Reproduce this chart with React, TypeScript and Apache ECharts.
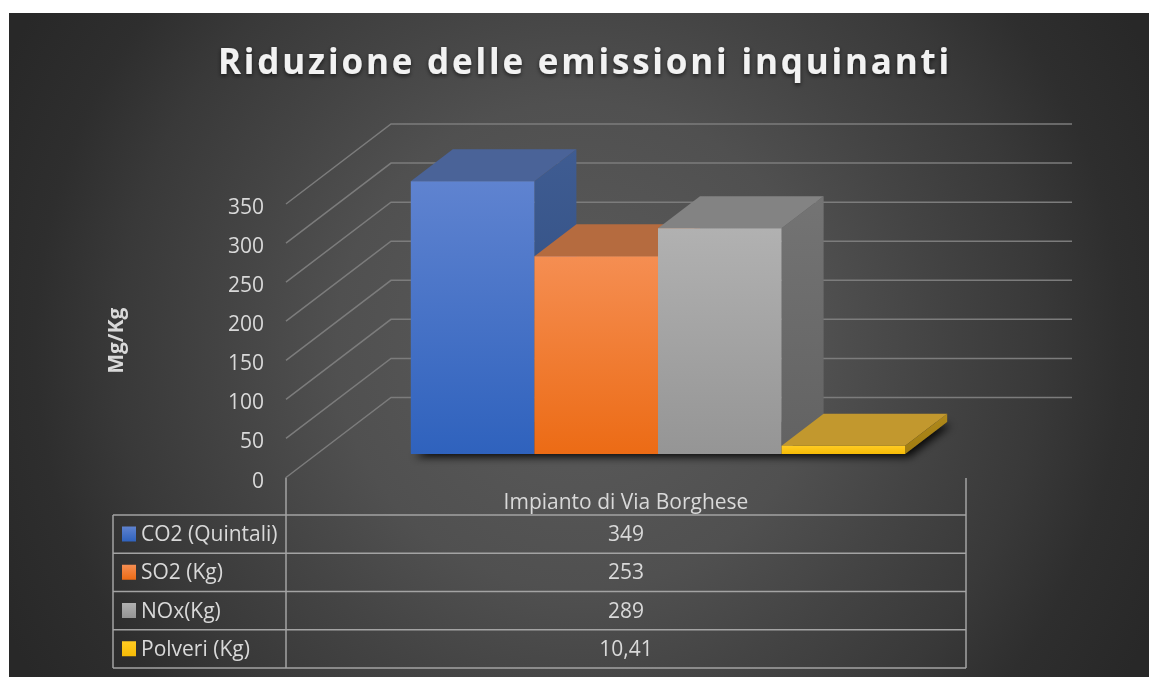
import React, { useEffect, useRef } from "react";
import * as echarts from "echarts";

const titleText = "Riduzione delle emissioni inquinanti";
const yAxisName = "Mg/Kg";
const categories = ["Impianto di Via Borghese"];
const seriesNames = ["CO2 (Quintali)", "SO2 (Kg)", "NOx(Kg)", "Polveri (Kg)"];
const seriesValues = [349, 253, 289, 10.41];
const tickValues = [0, 50, 100, 150, 200, 250, 300, 350];
const frontTop = ["#5f83d0", "#f58e52", "#b1b1b1", "#ffcb22"];
const frontBottom = ["#2f62bd", "#ec6b15", "#959595", "#f6bb06"];
const topFaces = ["#4a6398", "#b56b3f", "#838383", "#c2982e"];
const sideTop = ["#3f5c92", "#8f5030", "#747474", "#b0891c"];
const sideBottom = ["#2b4a7c", "#8a4515", "#626262", "#a07c10"];

const FONT = "'Open Sans', sans-serif";
const TEXT = "#d9d9d9";
const LINE = "#a3a3a3";
const WALL_DX = 105;
const WALL_DY = 80;
const BASE_DX = 32;
const BASE_DY = 23.5;
const BAR_DX = 42;
const BAR_DY = 32;
const BAR_W = 123.6;

const poly = (points: number[][], fill: any, extra: any = {}) => ({
  type: "polygon",
  shape: { points },
  style: { fill, ...extra },
  silent: true,
});

const vgrad = (a: string, b: string) => ({
  type: "linear",
  x: 0,
  y: 0,
  x2: 0,
  y2: 1,
  colorStops: [
    { offset: 0, color: a },
    { offset: 1, color: b },
  ],
});

export default function App() {
  const ref = useRef<HTMLDivElement>(null);

  useEffect(() => {
    document.body.style.margin = "0";
    document.body.style.background = "#fff";
    const chart = echarts.init(ref.current!, null, { renderer: "svg" });

    const tableLeft = 113;
    const tableMid = 286;
    const tableRight = 966;
    const tableTop = 515;
    const rowH = 38.25;
    const lineStyle = { stroke: LINE, lineWidth: 1.5 };
    const tableGraphics: any[] = [];
    const addLine = (x1: number, y1: number, x2: number, y2: number) =>
      tableGraphics.push({
        type: "line",
        silent: true,
        shape: { x1, y1, x2, y2 },
        style: lineStyle,
      });
    seriesNames.forEach((name, i) => {
      const y = tableTop + rowH * i;
      addLine(tableLeft, y, tableRight, y);
      tableGraphics.push({
        type: "rect",
        silent: true,
        shape: { x: 122, y: y + 11.5, width: 14, height: 15 },
        style: { fill: vgrad(frontTop[i], frontBottom[i]) },
      });
      tableGraphics.push({
        type: "text",
        silent: true,
        x: 141,
        y: y + rowH / 2 - 1,
        style: {
          text: name,
          fill: TEXT,
          font: `21px ${FONT}`,
          textAlign: "left",
          textVerticalAlign: "middle",
        },
      });
      tableGraphics.push({
        type: "text",
        silent: true,
        x: 626,
        y: y + rowH / 2 - 1,
        style: {
          text: String(seriesValues[i]).replace(".", ","),
          fill: TEXT,
          font: `21px ${FONT}`,
          textAlign: "center",
          textVerticalAlign: "middle",
        },
      });
    });
    const tableBottom = tableTop + rowH * seriesNames.length;
    addLine(tableLeft, tableBottom, tableRight, tableBottom);
    addLine(tableLeft, tableTop, tableLeft, tableBottom);
    addLine(tableMid, 477.5, tableMid, tableBottom);
    addLine(tableRight, 478, tableRight, tableBottom);

    chart.setOption({
      animation: false,
      backgroundColor: "transparent",
      graphic: [
        {
          type: "rect",
          silent: true,
          z: -10,
          shape: { x: 9, y: 13, width: 1140, height: 664 },
          style: {
            fill: {
              type: "radial",
              x: 579,
              y: 345,
              r: 640,
              global: true,
              colorStops: [
                { offset: 0, color: "#5c5c5c" },
                { offset: 0.38, color: "#505050" },
                { offset: 0.55, color: "#444444" },
                { offset: 0.72, color: "#393939" },
                { offset: 0.85, color: "#2e2e2e" },
                { offset: 1, color: "#282828" },
              ],
            },
          },
        },
        ...tableGraphics,
      ],
      title: {
        text: titleText,
        left: 580,
        top: 38,
        textAlign: "center",
        textStyle: {
          color: "#f2f2f2",
          fontFamily: FONT,
          fontWeight: "bold",
          fontSize: 35,
          textShadowColor: "rgba(0,0,0,0.6)",
          textShadowBlur: 4,
          textShadowOffsetY: 2,
        },
      },
      grid: { left: 286, top: 204, width: 680, height: 273.5 },
      xAxis: {
        type: "category",
        data: categories,
        axisLine: { show: false },
        axisTick: { show: false },
        axisLabel: { color: TEXT, fontFamily: FONT, fontSize: 21, margin: 13 },
      },
      yAxis: {
        type: "value",
        min: 0,
        max: 350,
        interval: 50,
        name: yAxisName,
        nameLocation: "middle",
        nameGap: 161,
        nameRotate: 90,
        nameTextStyle: { color: TEXT, fontFamily: FONT, fontWeight: "bold", fontSize: 21 },
        axisLine: { show: false },
        axisTick: { show: false },
        splitLine: { show: false },
        axisLabel: {
          color: TEXT,
          fontFamily: FONT,
          fontSize: 21,
          margin: 22,
          verticalAlign: "top",
          lineHeight: 4,
        },
      },
      series: [
        {
          type: "custom",
          name: "wall",
          silent: true,
          z: 1,
          encode: { x: 0, y: 1 },
          data: tickValues.map((v) => [0, v]),
          renderItem: (params: any, api: any) => {
            const y = api.coord([0, api.value(1)])[1];
            const cs = params.coordSys;
            return {
              type: "polyline",
              silent: true,
              shape: {
                points: [
                  [cs.x, y],
                  [cs.x + WALL_DX, y - WALL_DY],
                  [cs.x + cs.width + WALL_DX + 1, y - WALL_DY],
                ],
              },
              style: { stroke: "#7c7c7c", lineWidth: 1.5, fill: "none" },
            };
          },
        },
        {
          type: "custom",
          name: "bars",
          silent: true,
          z: 2,
          encode: { x: 0, y: 1 },
          data: seriesValues.map((v) => [0, v]),
          renderItem: (params: any, api: any) => {
            const i = params.dataIndex;
            const p = api.coord([0, api.value(1)]);
            const base = api.coord([0, 0]);
            const n = seriesValues.length;
            const x0 = base[0] + BASE_DX - (BAR_W * n) / 2 + BAR_W * i;
            const x1 = x0 + BAR_W;
            const yb = base[1] - BASE_DY;
            const yt = p[1] - BASE_DY;
            const children: any[] = [];
            if (i === 0) {
              const right = x0 + BAR_W * n;
              children.push(
                poly(
                  [
                    [x0, yb],
                    [right, yb],
                    [right + BAR_DX, yb - BAR_DY],
                    [x0 + BAR_DX, yb - BAR_DY],
                  ],
                  "#1c1c1c",
                  { shadowColor: "rgba(0,0,0,0.9)", shadowBlur: 9, shadowOffsetX: 4, shadowOffsetY: 3 }
                )
              );
            }
            children.push(
              poly(
                [
                  [x1, yb],
                  [x1 + BAR_DX, yb - BAR_DY],
                  [x1 + BAR_DX, yt - BAR_DY],
                  [x1, yt],
                ],
                vgrad(sideTop[i], sideBottom[i])
              ),
              poly(
                [
                  [x0, yt],
                  [x1, yt],
                  [x1 + BAR_DX, yt - BAR_DY],
                  [x0 + BAR_DX, yt - BAR_DY],
                ],
                topFaces[i]
              ),
              poly(
                [
                  [x0, yt],
                  [x1, yt],
                  [x1, yb],
                  [x0, yb],
                ],
                vgrad(frontTop[i], frontBottom[i])
              )
            );
            return { type: "group", silent: true, children };
          },
        },
      ],
    });

    // ECharts has no letter-spacing option; the title is spaced out on its SVG node.
    ref.current!.querySelectorAll("text").forEach((node) => {
      if (node.textContent === titleText) {
        (node as SVGTextElement).style.letterSpacing = "2.8px";
      }
    });

    return () => chart.dispose();
  }, []);

  return (
    <div
      ref={ref}
      style={{ position: "fixed", left: 0, top: 0, width: 1149, height: 677 }}
    />
  );
}
